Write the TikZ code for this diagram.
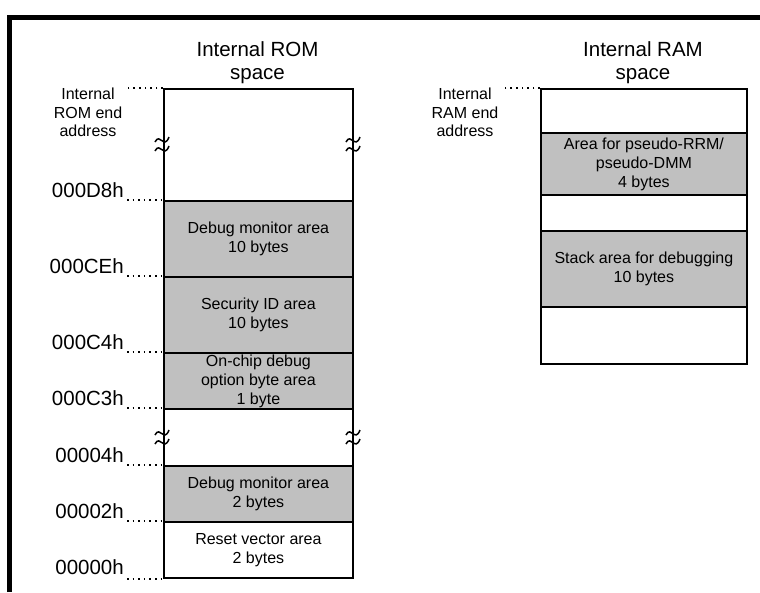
\documentclass[tikz,border=0pt]{standalone}
\usepackage{fontspec}
\setmainfont{Liberation Sans}
\begin{document}
\begin{tikzpicture}[x=1pt,y=-1pt,
  region/.style={draw, line width=1.8pt, minimum width=189pt, inner sep=0pt, align=center,
    font=\fontsize{16}{19}\selectfont, anchor=north west},
  shade/.style={fill=gfill},
  titletext/.style={anchor=north, align=center, inner sep=0pt, font=\fontsize{20.5}{23}\selectfont},
  sidelab/.style={anchor=north, align=center, inner sep=0pt, font=\fontsize{16}{18.5}\selectfont},
  addr/.style={anchor=base east, inner sep=0pt, inner xsep=3pt, font=\fontsize{20.5}{23}\selectfont},
  dotline/.style={line width=1.4pt, dash pattern=on 1.6pt off 4pt},
  brk/.pic={
    \draw[line width=1.5pt] (-7,-2) .. controls (-2,-12) and (2,6) .. (7,-7);
    \draw[line width=1.5pt] (-7,7) .. controls (-2,-3) and (2,15) .. (7,2);
  }]
\definecolor{gfill}{RGB}{192,192,192}
\useasboundingbox (0,0) rectangle (760,592);
\fill[white] (0,0) rectangle (760,592);
% frame
\draw[line width=5pt] (9.5,592) -- (9.5,17.5) -- (760,17.5);

% titles
\node[titletext] (tROM) at (257.5,41) {Internal ROM\\space};
\node[titletext] (tRAM) at (643,41) {Internal RAM\\space};

% ROM regions
\node[region, minimum height=112pt] (r0) at (163,88) {};
\node[region, shade, minimum height=76pt] (r1) at (163,200) {Debug monitor area\\10 bytes};
\node[region, shade, minimum height=76pt] (r2) at (163,276) {Security ID area\\10 bytes};
\node[region, shade, minimum height=56pt] (r3) at (163,352) {On-chip debug\\option byte area\\1 byte};
\node[region, minimum height=57pt] (r4) at (163,408) {};
\node[region, shade, minimum height=56pt] (r5) at (163,465) {Debug monitor area\\2 bytes};
\node[region, minimum height=56pt] (r6) at (163,521) {Reset vector area\\2 bytes};

% RAM regions
\node[region, minimum width=206pt, minimum height=44pt] (m0) at (540,88) {};
\node[region, shade, minimum width=206pt, minimum height=62pt] (m1) at (540,132) {Area for pseudo-RRM/\\pseudo-DMM\\4 bytes};
\node[region, minimum width=206pt, minimum height=36pt] (m2) at (540,194) {};
\node[region, shade, minimum width=206pt, minimum height=76pt] (m3) at (540,230) {Stack area for debugging\\10 bytes};
\node[region, minimum width=206pt, minimum height=57pt] (m4) at (540,306) {};

% break marks
\pic at (162,144) {brk};
\pic at (353,144) {brk};
\pic at (162,437) {brk};
\pic at (353,437) {brk};

% end address labels
\node[sidelab] (eROM) at (88,88) {Internal\\ROM end\\address};
\node[sidelab] (eRAM) at (465,88) {Internal\\RAM end\\address};
\draw[dotline] (r0.north west) -- ++(-35,0);
\draw[dotline] (m0.north west) -- ++(-37,0);

% address labels
\node[addr] (a1) at (127,197.5) {000D8h};
\node[addr] (a2) at (127,273.5) {000CEh};
\node[addr] (a3) at (127,349.5) {000C4h};
\node[addr] (a4) at (127,405.5) {000C3h};
\node[addr] (a5) at (127,462.5) {00004h};
\node[addr] (a6) at (127,518.5) {00002h};
\node[addr] (a7) at (127,574.5) {00000h};
\draw[dotline] (a1.east |- r1.north west) -- (r1.north west);
\draw[dotline] (a2.east |- r2.north west) -- (r2.north west);
\draw[dotline] (a3.east |- r3.north west) -- (r3.north west);
\draw[dotline] (a4.east |- r4.north west) -- (r4.north west);
\draw[dotline] (a5.east |- r5.north west) -- (r5.north west);
\draw[dotline] (a6.east |- r6.north west) -- (r6.north west);
\draw[dotline] (a7.east |- r6.south west) -- (r6.south west);
\end{tikzpicture}
\end{document}
